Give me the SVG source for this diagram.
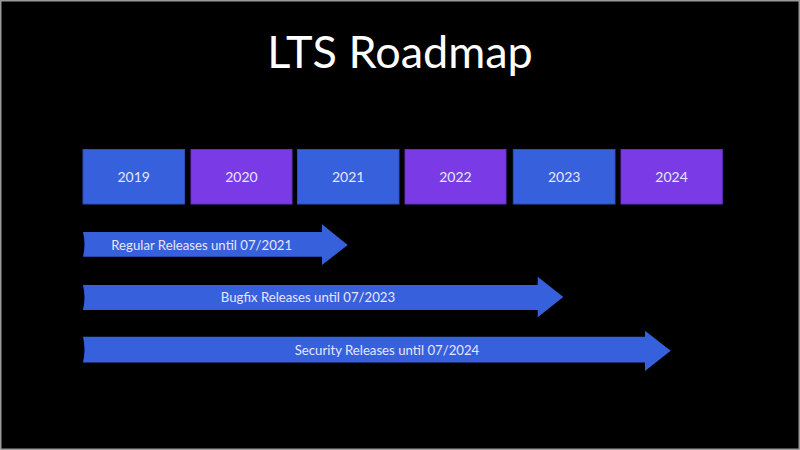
<svg xmlns="http://www.w3.org/2000/svg" width="800" height="450" viewBox="0 0 800 450">
<style>
.bg{fill:#000}
.frame{fill:none;stroke:#9a9a9a;stroke-width:1.5}
.title{font-family:Lato,"Open Sans",sans-serif;font-size:45px;fill:#fff;text-anchor:middle}
.b{fill:#3760dc;stroke:#2c4fb8;stroke-width:1}
.p{fill:#7a3be6;stroke:#6430c4;stroke-width:1}
.yr{font-family:Lato,"Open Sans",sans-serif;font-size:14px;fill:#e6e6ff;text-anchor:middle}
.ar{fill:#3760dc}
.al{font-family:Lato,"Open Sans",sans-serif;font-size:13.2px;fill:#e6e6ff;text-anchor:middle}
</style>
<rect class="bg" x="0" y="0" width="800" height="450"/>
<rect class="frame" x="0.75" y="0.75" width="798.5" height="448.5"/>
<text class="title" x="400" y="68">LTS Roadmap</text>
<g id="y2019"><rect class="b" x="83" y="149.5" width="101.5" height="54.5"/><text class="yr" x="133.7" y="182">2019</text></g>
<g id="y2020"><rect class="p" x="191" y="149.5" width="101" height="54.5"/><text class="yr" x="241.5" y="182">2020</text></g>
<g id="y2021"><rect class="b" x="297.5" y="149.5" width="101.5" height="54.5"/><text class="yr" x="348.2" y="182">2021</text></g>
<g id="y2022"><rect class="p" x="405" y="149.5" width="101" height="54.5"/><text class="yr" x="455.5" y="182">2022</text></g>
<g id="y2023"><rect class="b" x="513.3" y="149.5" width="101.7" height="54.5"/><text class="yr" x="564.2" y="182">2023</text></g>
<g id="y2024"><rect class="p" x="621" y="149.5" width="101.3" height="54.5"/><text class="yr" x="671.6" y="182">2024</text></g>
<g id="connectors">
<g id="regular"><path class="ar" d="M83,232 H322 V224.3 L347.7,245 L322,265 V256.7 H83 Q86,244.3 83,232 Z"/><text class="al" x="201.7" y="249.5">Regular Releases until 07/2021</text></g>
<g id="bugfix"><path class="ar" d="M83,285 H537.7 V276.7 L563.3,297 L537.7,317.3 V310 H83 Q86,297.5 83,285 Z"/><text class="al" x="308" y="302">Bugfix Releases until 07/2023</text></g>
<g id="security"><path class="ar" d="M83,336.7 H645 V330.7 L670.7,350.7 L645,371 V362.5 H83 Q86,349.6 83,336.7 Z"/><text class="al" x="387" y="355">Security Releases until 07/2024</text></g>
</g>
</svg>
